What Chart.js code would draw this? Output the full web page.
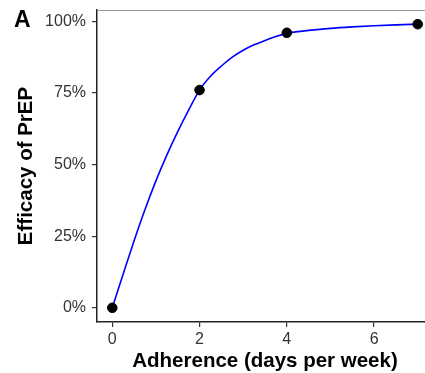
<!DOCTYPE html>
<html>
<head>
<meta charset="utf-8">
<script src="https://cdn.jsdelivr.net/npm/chart.js@4.4.1/dist/chart.umd.min.js"></script>
<style>
  html, body { margin: 0; padding: 0; background: #fff; overflow: hidden; width: 425px; height: 373px; }
  #wrap { width: 440px; height: 373px; }
</style>
</head>
<body>
<div id="wrap"><canvas id="chart" width="440" height="373"></canvas></div>
<script>
// observed trial points
const adherenceDays = [0, 2, 4, 7];
const efficacyPct = [0, 76, 96, 99];

// fitted curve
const curveDays = [0, 0.25, 0.5, 0.75, 1, 1.25, 1.5, 1.75, 2, 2.25, 2.5, 2.75, 3, 3.25, 3.5, 3.75, 4, 4.25, 4.5, 5, 5.5, 6, 6.5, 7];
const curvePct = [0, 11.8, 23.4, 34.3, 44.3, 53.3, 61.5, 69, 76, 80.8, 84.4, 87.5, 89.9, 91.8, 93.3, 94.7, 95.8, 96.4, 96.85, 97.55, 98.05, 98.45, 98.75, 99];

const xTicks = [0, 2, 4, 6];
const yTicks = [0, 25, 50, 75, 100];

const FONT = "'Liberation Sans', Arial, sans-serif";

// gray panel border (top/right) and panel letter
const panelDecor = {
    id: 'panelDecor',
    beforeDatasetsDraw(chart) {
        const { ctx, chartArea: a } = chart;
        ctx.save();
        ctx.strokeStyle = '#9a9a9a';
        ctx.lineWidth = 1;
        ctx.beginPath();
        ctx.moveTo(a.left, a.top + 0.5);
        ctx.lineTo(a.right, a.top + 0.5);
        ctx.lineTo(a.right, a.bottom);
        ctx.stroke();
        ctx.restore();
    },
    afterDraw(chart) {
        const { ctx } = chart;
        ctx.save();
        ctx.fillStyle = '#000';
        ctx.font = `bold 23px ${FONT}`;
        ctx.textBaseline = 'alphabetic';
        ctx.fillText('A', 14, 27);
        ctx.restore();
    }
};

const ctx = document.getElementById('chart').getContext('2d');
new Chart(ctx, {
    type: 'scatter',
    data: {
        datasets: [
            {
                type: 'line',
                data: curveDays.map((d, i) => ({ x: d, y: curvePct[i] })),
                borderColor: '#0000ff',
                borderWidth: 1.6,
                pointRadius: 0,
                cubicInterpolationMode: 'monotone',
                fill: false,
                order: 2
            },
            {
                data: adherenceDays.map((d, i) => ({ x: d, y: efficacyPct[i] })),
                backgroundColor: '#000',
                borderColor: '#000',
                pointRadius: 4.8,
                order: 1
            }
        ]
    },
    options: {
        responsive: false,
        animation: false,
        layout: { padding: { top: 10, right: 7, left: 0, bottom: 0 } },
        plugins: {
            legend: { display: false },
            tooltip: { enabled: false }
        },
        scales: {
            x: {
                type: 'linear',
                min: -0.35,
                max: 7.35,
                afterBuildTicks: s => { s.ticks = xTicks.map(v => ({ value: v })); },
                afterFit: s => { s.height = 51; s.paddingLeft = 0; s.paddingRight = 0; },
                grid: { drawOnChartArea: false, tickLength: 5, color: '#333', lineWidth: 1.2 },
                border: { color: '#222', width: 1.5 },
                ticks: { color: '#333', padding: 3, font: { family: FONT, size: 16 } },
                title: {
                    display: true,
                    text: 'Adherence (days per week)',
                    color: '#000',
                    padding: 0,
                    font: { family: FONT, size: 20.5, weight: 'bold', lineHeight: 1.1 }
                }
            },
            y: {
                min: -4.95,
                max: 103.95,
                afterBuildTicks: s => { s.ticks = yTicks.map(v => ({ value: v })); },
                afterFit: s => { s.width = 97; s.paddingTop = 0; s.paddingBottom = 0; },
                grid: { drawOnChartArea: false, tickLength: 5, color: '#333', lineWidth: 1.2 },
                border: { color: '#222', width: 1.5 },
                ticks: {
                    color: '#333',
                    padding: 6,
                    font: { family: FONT, size: 16 },
                    callback: v => v + '%'
                },
                title: {
                    display: true,
                    text: 'Efficacy of PrEP',
                    color: '#000',
                    padding: 15,
                    font: { family: FONT, size: 20.5, weight: 'bold', lineHeight: 1.1 }
                }
            }
        }
    },
    plugins: [panelDecor]
});
</script>
</body>
</html>
